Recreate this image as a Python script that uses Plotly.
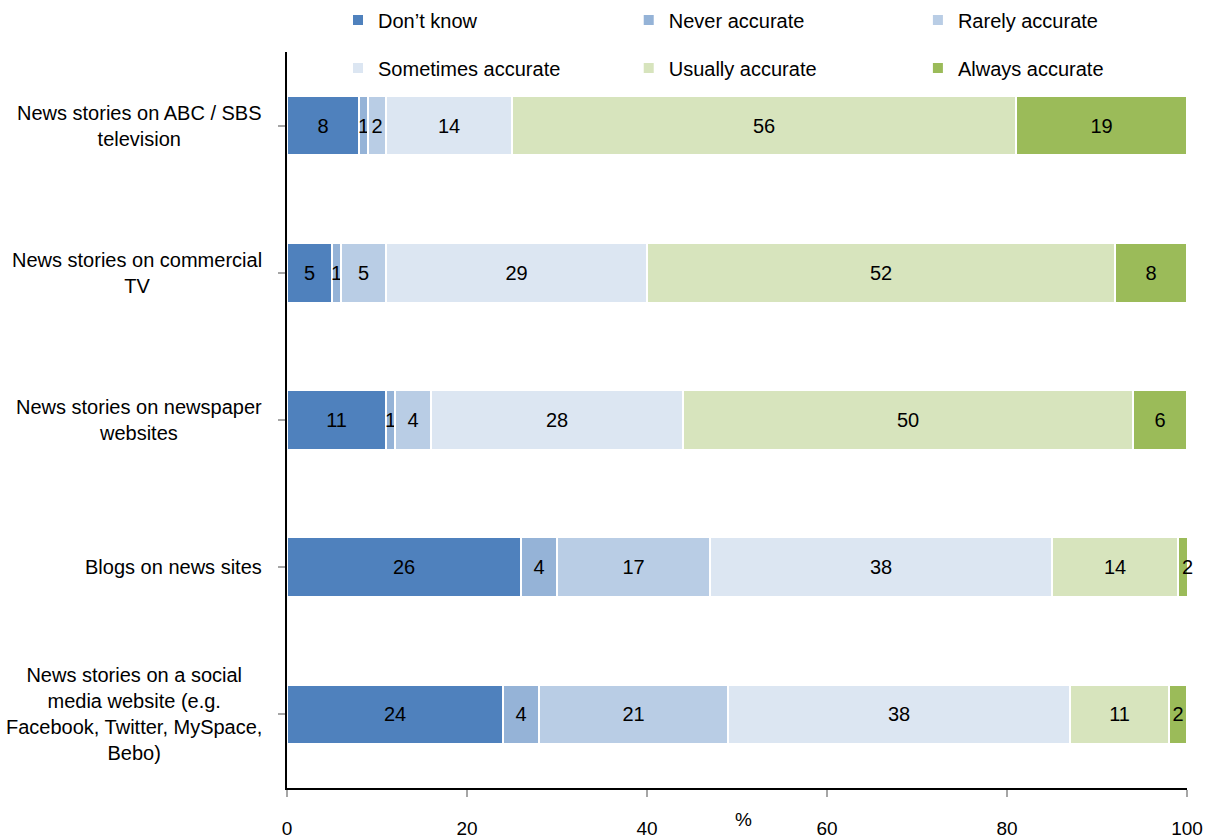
import plotly.graph_objects as go

# Survey: perceived accuracy of news sources (%)
sources = [
    "News stories on ABC / SBS<br>television",
    "News stories on commercial<br>TV",
    "News stories on newspaper<br>websites",
    "Blogs on news sites",
    "News stories on a social<br>media website (e.g.<br>Facebook, Twitter, MySpace,<br>Bebo)",
]
dont_know = [8, 5, 11, 26, 24]
never_accurate = [1, 1, 1, 4, 4]
rarely_accurate = [2, 5, 4, 17, 21]
sometimes_accurate = [14, 29, 28, 38, 38]
usually_accurate = [56, 52, 50, 14, 11]
always_accurate = [19, 8, 6, 2, 2]

x_ticks = [0, 20, 40, 60, 80, 100]
X_MAX = 100

series = [
    ("Don\u2019t know", dont_know, "#4F81BD"),
    ("Never accurate", never_accurate, "#95B3D7"),
    ("Rarely accurate", rarely_accurate, "#B9CDE5"),
    ("Sometimes accurate", sometimes_accurate, "#DCE6F2"),
    ("Usually accurate", usually_accurate, "#D7E4BD"),
    ("Always accurate", always_accurate, "#9BBB59"),
]

# legend slots: two rows of three (paper x of box left, paper y of row centre)
legend_x = [0.0567, 0.3797, 0.701]
legend_y = [1.0435, 0.9783]

FONT = "Liberation Sans, Arial, sans-serif"
cats = list(range(len(sources)))

fig = go.Figure()
running = [0.0] * len(sources)
for k, (name, vals, color) in enumerate(series):
    texts = []
    for i, v in enumerate(vals):
        start, end = running[i], running[i] + v
        if end > X_MAX:
            # segment runs past the axis end: label it with an annotation
            texts.append("")
            fig.add_annotation(
                x=(start + end) / 2, xref="x", y=i, yref="y", text=str(v),
                showarrow=False, xanchor="center", yanchor="middle",
                font=dict(family=FONT, size=20, color="black"),
            )
        else:
            texts.append(str(v))
        running[i] = end
    leg_name = "legend" if k == 0 else f"legend{k + 1}"
    fig.add_trace(go.Bar(
        name=name,
        y=cats,
        x=vals,
        orientation="h",
        marker=dict(color=color, line=dict(color="white", width=2)),
        text=texts,
        textposition="inside",
        insidetextanchor="middle",
        textangle=0,
        constraintext="none",
        textfont=dict(family=FONT, size=20, color="black"),
        cliponaxis=False,
        legend=leg_name,
        hoverinfo="skip",
    ))

# Category labels, right-edged against the axis with centred lines
for i, label in enumerate(sources):
    fig.add_annotation(
        x=-0.026, xref="paper", y=i, yref="y",
        text=label, showarrow=False, xanchor="right", yanchor="middle",
        align="center", font=dict(family=FONT, size=20, color="black"),
    )

fig.add_annotation(
    x=50.7, xref="x", y=-0.043, yref="paper", text="%", showarrow=False,
    xanchor="center", yanchor="middle", font=dict(family=FONT, size=19, color="black"),
)

legends = {}
for k in range(len(series)):
    key = "legend" if k == 0 else f"legend{k + 1}"
    legends[key] = dict(
        orientation="h", xanchor="left", yanchor="middle",
        x=legend_x[k % 3], y=legend_y[k // 3],
        font=dict(family=FONT, size=20, color="black"), bgcolor="rgba(0,0,0,0)",
        itemclick=False, itemdoubleclick=False,
    )

fig.update_layout(
    width=1212, height=840,
    margin=dict(l=287, r=25, t=52, b=52, autoexpand=False),
    barmode="stack",
    bargap=0.595,
    plot_bgcolor="white", paper_bgcolor="white",
    showlegend=True,
    xaxis=dict(
        range=[0, X_MAX], tickvals=x_ticks, ticktext=[str(t) for t in x_ticks],
        showgrid=False, zeroline=False, showline=True, linecolor="black", linewidth=2,
        ticks="outside", ticklen=7, tickcolor="#A6A6A6", tickwidth=1.5,
        ticklabelstandoff=15,
        tickfont=dict(family=FONT, size=19, color="black"),
    ),
    yaxis=dict(
        autorange="reversed", tickmode="array", tickvals=cats,
        showticklabels=False, tickson="boundaries",
        showgrid=False, zeroline=False, showline=True, linecolor="black", linewidth=2,
        ticks="outside", ticklen=7, tickcolor="#A6A6A6", tickwidth=1.5,
    ),
    **legends,
)

fig.write_html("out.html")
